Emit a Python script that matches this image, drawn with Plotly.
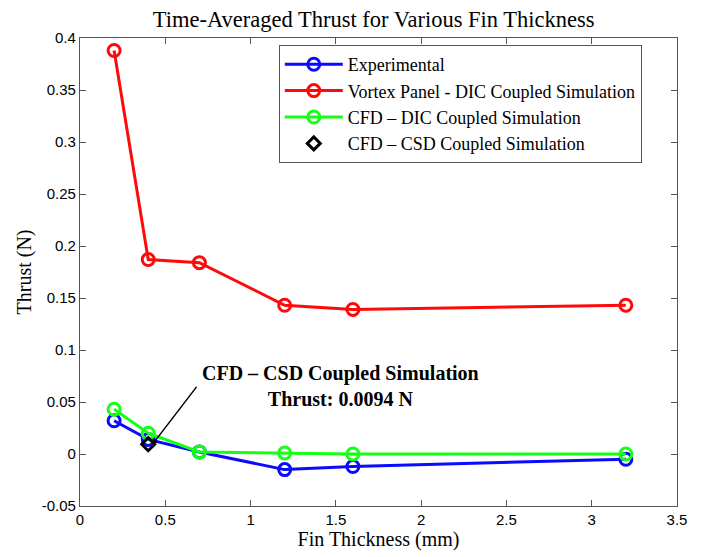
import plotly.graph_objects as go

# Fin thickness (mm) for each tested fin
thickness = [0.2, 0.4, 0.7, 1.2, 1.6, 3.2]

# Time-averaged thrust (N)
thrust_experimental = [0.032, 0.014, 0.002, -0.015, -0.012, -0.005]
thrust_vortex_panel = [0.388, 0.187, 0.184, 0.143, 0.139, 0.143]
thrust_cfd_dic = [0.043, 0.020, 0.002, 0.001, 0.000, 0.000]

# Single CFD-CSD coupled result
csd_thickness = [0.4]
csd_thrust = [0.0094]

x_ticks = [0, 0.5, 1, 1.5, 2, 2.5, 3, 3.5]
y_ticks = [-0.05, 0, 0.05, 0.1, 0.15, 0.2, 0.25, 0.3, 0.35, 0.4]

serif = "Liberation Serif, Times New Roman, serif"
sans = "Liberation Sans, Arial, sans-serif"

fig = go.Figure()


def add_series(y, name, color):
    fig.add_trace(go.Scatter(
        x=thickness, y=y, name=name, mode="lines+markers",
        line=dict(color=color, width=3),
        marker=dict(symbol="circle-open", size=12, color=color,
                    line=dict(width=3, color=color)),
    ))


add_series(thrust_experimental, "Experimental", "#0a0aff")
add_series(thrust_vortex_panel, "Vortex Panel - DIC Coupled Simulation", "#ff0a0a")
add_series(thrust_cfd_dic, "CFD \u2013 DIC Coupled Simulation", "#14ff14")

fig.add_trace(go.Scatter(
    x=csd_thickness, y=csd_thrust, name="CFD \u2013 CSD Coupled Simulation",
    mode="markers",
    marker=dict(symbol="diamond-open", size=10, color="black",
                line=dict(width=3, color="black")),
))

fig.add_annotation(
    x=csd_thickness[0] + 0.03, y=csd_thrust[0] + 0.001, xref="x", yref="y",
    ax=0.69, ay=0.066, axref="x", ayref="y",
    showarrow=True, arrowhead=1, arrowsize=0.8, arrowwidth=1.5,
    arrowcolor="black", text="",
)
fig.add_annotation(
    x=1.53, y=0.065, xref="x", yref="y", showarrow=False,
    text=("<b>CFD \u2013 CSD Coupled Simulation</b><br>"
          f"<b>Thrust: {csd_thrust[0]:.4f} N</b>"),
    font=dict(family=serif, size=20, color="black"),
    align="center",
)

axis_common = dict(
    showline=True, linecolor="#555555", linewidth=1.2, mirror="ticks",
    ticks="inside", ticklen=6, tickcolor="#555555", tickwidth=1,
    showgrid=False, zeroline=False,
    tickfont=dict(family=sans, size=15, color="black"),
)

fig.update_layout(
    width=705, height=557,
    margin=dict(l=80, r=28, t=38, b=51),
    paper_bgcolor="white", plot_bgcolor="white",
    title=dict(text="Time-Averaged Thrust for Various Fin Thickness",
               x=0.53, xanchor="center", y=0.966, yanchor="middle",
               font=dict(family=serif, size=22.5, color="black")),
    xaxis=dict(range=[0, 3.5], tickvals=x_ticks,
               ticktext=[f"{v:g}" for v in x_ticks],
               title=dict(text="Fin Thickness (mm)", standoff=2,
                          font=dict(family=serif, size=20, color="black")),
               **axis_common),
    yaxis=dict(range=[-0.05, 0.4], tickvals=y_ticks,
               ticktext=[f"{v:g}" for v in y_ticks],
               title=dict(text="Thrust (N)", standoff=4,
                          font=dict(family=serif, size=20, color="black")),
               **axis_common),
    legend=dict(x=0.333, y=0.985, xanchor="left", yanchor="top",
                bgcolor="white", bordercolor="#555555", borderwidth=1,
                font=dict(family=serif, size=18, color="black"),
                tracegroupgap=0, itemsizing="trace", itemwidth=58),
    showlegend=True,
)

fig.write_html("out.html")
